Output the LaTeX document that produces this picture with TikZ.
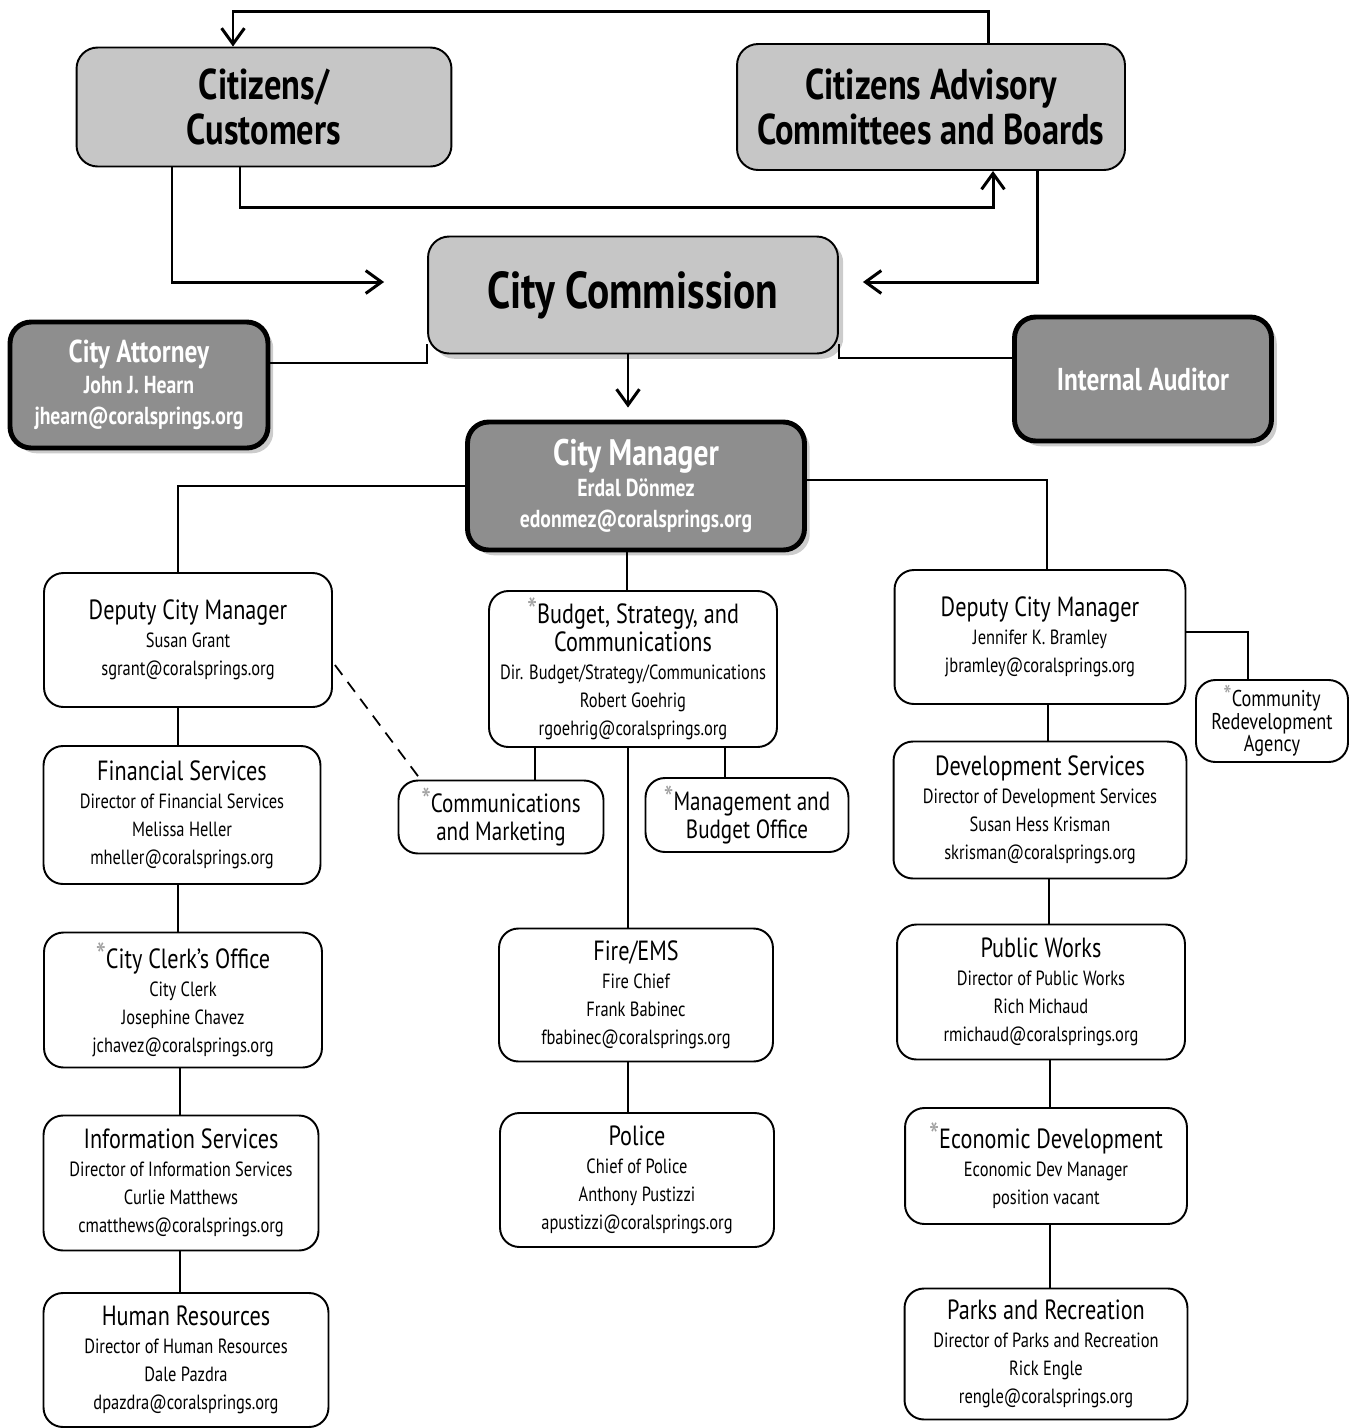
\documentclass[tikz,border=0pt]{standalone}
\usepackage{fontspec}
\setmainfont{PT Sans}[FakeStretch=0.8]
\usetikzlibrary{arrows.meta,calc,shadows}

\definecolor{boxgray}{HTML}{C6C6C6}
\definecolor{chiefgray}{HTML}{8E8E8E}
\definecolor{stargray}{HTML}{A0A0A0}
\newcommand{\grstar}{\textcolor{stargray}{\scalebox{1.3}{*}}}
\newcommand{\hd}{\fontsize{15.8}{18}\selectfont}

\tikzset{
  topbox/.style={draw, line width=1.1pt, fill=boxgray, rounded corners=12pt, align=center, inner sep=2pt, font=\bfseries\fontsize{24.5}{26}\selectfont},
  chiefbox/.style={draw, line width=2.8pt, fill=chiefgray, rounded corners=12pt, text=white, align=center, inner sep=2pt, font=\bfseries\fontsize{14}{17.5}\selectfont},
  shade/.style={drop shadow={shadow xshift=3pt, shadow yshift=-3pt, opacity=.4}},
  unit/.style={draw, line width=1.1pt, rounded corners=11pt, align=center, inner sep=2pt, font=\fontsize{11.7}{16}\selectfont},
  flow/.style={line width=1.7pt, -{Straight Barb[length=9pt,width=13pt]}},
  link/.style={line width=1pt}
}

\begin{document}
\begin{tikzpicture}[x=0.02cm,y=-0.02cm]
\useasboundingbox (0,0) rectangle (1354,1428);

% top level
\node[topbox, minimum width=7.5cm, minimum height=2.38cm] (cit) at (264,107) {Citizens/\\Customers};
\node[topbox, minimum width=7.76cm, minimum height=2.52cm] (adv) at (931,107) {Citizens Advisory\\Committees and Boards};
\node[topbox, shade, minimum width=8.2cm, minimum height=2.34cm, font=\bfseries\fontsize{29.5}{30}\selectfont] (comm) at (633,295) {City Commission};

\node[chiefbox, shade, minimum width=5.16cm, minimum height=2.52cm] (att) at (139,385) {{\fontsize{18}{18}\selectfont City Attorney}\\John J. Hearn\\jhearn@coralsprings.org};
\node[chiefbox, shade, minimum width=5.14cm, minimum height=2.48cm, font=\bfseries\fontsize{18}{18}\selectfont] (aud) at (1143,379) {Internal Auditor};
\node[chiefbox, shade, minimum width=6.74cm, minimum height=2.56cm] (cm) at (636,486) {{\fontsize{21}{20}\selectfont City Manager}\\Erdal Dönmez\\edonmez@coralsprings.org};

% left column
\node[unit, minimum width=5.76cm, minimum height=2.68cm] (dcml) at (188,640) {{\hd Deputy City Manager}\\Susan Grant\\sgrant@coralsprings.org};
\node[unit, minimum width=5.54cm, minimum height=2.76cm] (fin) at (182,815) {{\hd Financial Services}\\Director of Financial Services\\Melissa Heller\\mheller@coralsprings.org};
\node[unit, minimum width=5.56cm, minimum height=2.7cm] (clerk) at (183,1000) {{\hd\grstar City Clerk’s Office}\\City Clerk\\Josephine Chavez\\jchavez@coralsprings.org};
\node[unit, minimum width=5.5cm, minimum height=2.7cm] (info) at (181,1183) {{\hd Information Services}\\Director of Information Services\\Curlie Matthews\\cmatthews@coralsprings.org};
\node[unit, minimum width=5.7cm, minimum height=2.68cm] (hr) at (186,1360) {{\hd Human Resources}\\Director of Human Resources\\Dale Pazdra\\dpazdra@coralsprings.org};

% middle column
\node[unit, minimum width=5.76cm, minimum height=3.12cm] (bsc) at (633,669) {{\hd\grstar Budget, Strategy, and}\\{\hd Communications}\\Dir. Budget/Strategy/Communications\\Robert Goehrig\\rgoehrig@coralsprings.org};
\node[unit, minimum width=4.1cm, minimum height=1.46cm, font=\fontsize{15}{16}\selectfont] (cmk) at (501,817) {\grstar Communications\\and Marketing};
\node[unit, minimum width=4.06cm, minimum height=1.48cm, font=\fontsize{15}{16}\selectfont] (mbo) at (747,815) {\grstar Management and\\Budget Office};
\node[unit, minimum width=5.48cm, minimum height=2.66cm] (fire) at (636,995) {{\hd Fire/EMS}\\Fire Chief\\Frank Babinec\\fbabinec@coralsprings.org};
\node[unit, minimum width=5.48cm, minimum height=2.68cm] (pol) at (637,1180) {{\hd Police}\\Chief of Police\\Anthony Pustizzi\\apustizzi@coralsprings.org};

% right column
\node[unit, minimum width=5.82cm, minimum height=2.68cm] (dcmr) at (1040,637) {{\hd Deputy City Manager}\\Jennifer K. Bramley\\jbramley@coralsprings.org};
\node[unit, minimum width=3.04cm, minimum height=1.64cm, font=\fontsize{13}{11.5}\selectfont] (cra) at (1272,721) {\grstar Community\\Redevelopment\\Agency};
\node[unit, minimum width=5.86cm, minimum height=2.74cm] (dev) at (1040,810) {{\hd Development Services}\\Director of Development Services\\Susan Hess Krisman\\skrisman@coralsprings.org};
\node[unit, minimum width=5.76cm, minimum height=2.7cm] (pw) at (1041,992) {{\hd Public Works}\\Director of Public Works\\Rich Michaud\\rmichaud@coralsprings.org};
\node[unit, minimum width=5.64cm, minimum height=2.32cm] (econ) at (1046,1166) {{\hd\grstar Economic Development}\\Economic Dev Manager\\position vacant};
\node[unit, minimum width=5.66cm, minimum height=2.62cm] (parks) at (1046,1354) {{\hd Parks and Recreation}\\Director of Parks and Recreation\\Rick Engle\\rengle@coralsprings.org};

% arrows between the top boxes
\draw[flow] ($(adv.north)+(57,0)$) -- ++(0,-32) -| ($(cit.north)+(-31,0)$);
\draw[flow] ($(cit.south)+(-24,0)$) -- ++(0,40) -| ($(adv.south)+(62,0)$);
\draw[flow, shorten >=0.86cm] ($(cit.south)+(-92,0)$) |- ($(comm.west)+(0,-13)$);
\draw[flow, shorten >=0.48cm] ($(adv.south)+(106,0)$) |- ($(comm.east)+(0,-13)$);
\draw[flow, shorten >=0.24cm] ($(comm.south)+(-5,0)$) -- ($(cm.north)+(-8,0)$);

% reporting lines
\draw[link] ($(att.east)+(0,-22)$) -| ($(comm.south west)+(0,-10)$);
\draw[link] ($(aud.west)+(0,-21)$) -| ($(comm.south east)+(0,-10)$);
\draw[link] (cm.west) -| ($(dcml.north)+(-10,0)$);
\draw[link] ($(cm.east)+(0,-6)$) -| ($(dcmr.north)+(7,0)$);
\draw[link] ($(cm.south)+(-9,0)$) -- ($(bsc.north)+(-6,0)$);

\draw[link] ($(fin.north)+(-4,0)$) -- ($(fin.north |- dcml.south)+(-4,0)$);
\draw[link] ($(clerk.north)+(-5,0)$) -- ($(clerk.north |- fin.south)+(-5,0)$);
\draw[link] ($(info.north)+(-1,0)$) -- ($(info.north |- clerk.south)+(-1,0)$);
\draw[link] ($(hr.north)+(-6,0)$) -- ($(hr.north |- info.south)+(-6,0)$);
\draw[link, dashed, dash pattern=on 7pt off 5pt] ($(dcml.east)+(2,25)$) -- ($(cmk.north west)+(23,0)$);

\draw[link] ($(cmk.north)+(34,0)$) -- ($(cmk.north |- bsc.south)+(34,0)$);
\draw[link] ($(mbo.north)+(-22,0)$) -- ($(mbo.north |- bsc.south)+(-22,0)$);
\draw[link] ($(fire.north)+(-8,0)$) -- ($(fire.north |- bsc.south)+(-8,0)$);
\draw[link] ($(pol.north)+(-9,0)$) -- ($(pol.north |- fire.south)+(-9,0)$);

\draw[link] ($(dcmr.east)+(0,-5)$) -| ($(cra.north)+(-24,0)$);
\draw[link] ($(dev.north)+(8,0)$) -- ($(dev.north |- dcmr.south)+(8,0)$);
\draw[link] ($(pw.north)+(8,0)$) -- ($(pw.north |- dev.south)+(8,0)$);
\draw[link] ($(econ.north)+(4,0)$) -- ($(econ.north |- pw.south)+(4,0)$);
\draw[link] ($(parks.north)+(4,0)$) -- ($(parks.north |- econ.south)+(4,0)$);
\end{tikzpicture}
\end{document}
